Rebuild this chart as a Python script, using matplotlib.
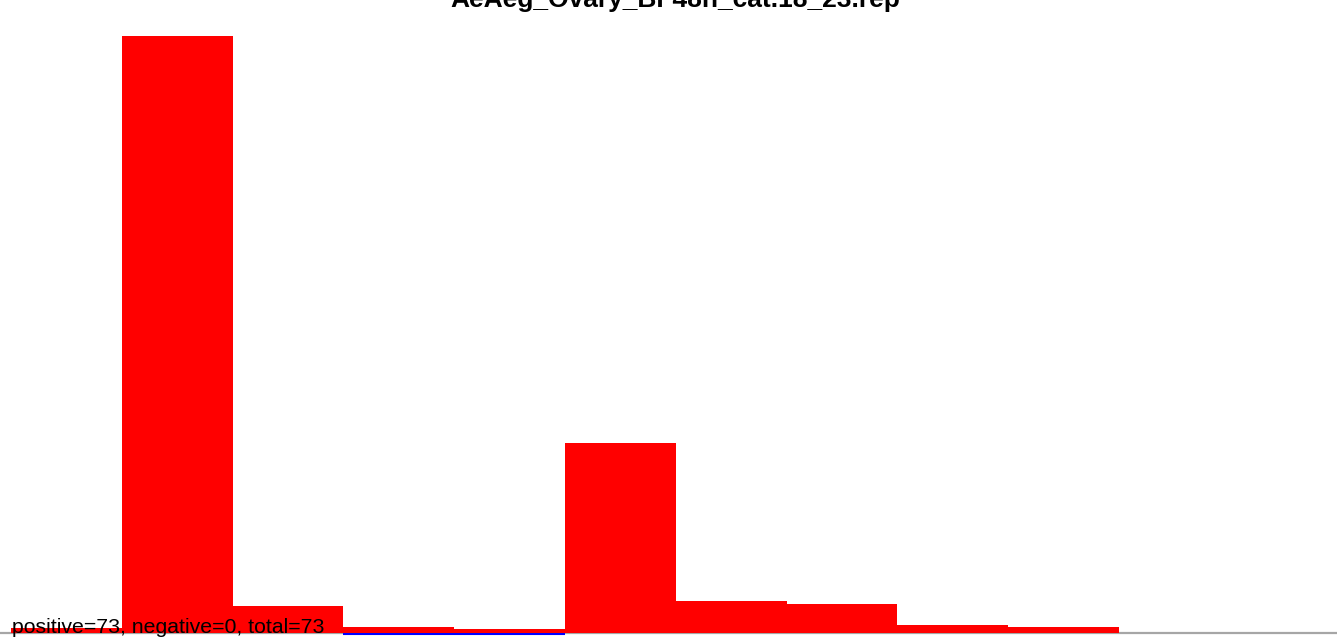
import matplotlib
matplotlib.use("Agg")
import matplotlib.pyplot as plt

title = "AeAeg_Ovary_BF48h_cat.18_23.rep"
footer = "positive=73, negative=0, total=73"
bins = list(range(12))
positive = [5, 597, 27, 6, 4, 190, 32, 29, 8, 6, 0, 0]
negative_line_bins = [3, 4]

W, H = 1337, 638
fig = plt.figure(figsize=(W / 100, H / 100), dpi=100)
plt.rcParams['font.family'] = ['Liberation Sans', 'DejaVu Sans']

base_px = 633
top_px = 36
ax = fig.add_axes([0, (H - base_px) / H, 1, (base_px - top_px) / H])
ax.set_xlim(-11 / 110.8, (W - 11) / 110.8)
ax.set_ylim(0, max(positive))
ax.axis('off')

ax.bar(bins, positive, width=1.0, align='edge', color='#ff0000', linewidth=0, zorder=2)
ax.axhline(0, color='#a6a6a6', linewidth=1.6, zorder=1, clip_on=False)
for b in negative_line_bins:
    ax.plot([b, b + 1], [-0.7, -0.7], color='#0000ff', linewidth=1.5, zorder=1.5,
            clip_on=False, solid_capstyle='butt')

fig.text(675 / W, (H - 6.5) / H, title, ha='center', va='baseline',
         fontsize=19, fontweight='bold', color='black')
fig.text(12 / W, (H - 633) / H, footer, ha='left', va='baseline',
         fontsize=15.3, color='black', zorder=5)

fig.savefig("out.png", dpi=100)
